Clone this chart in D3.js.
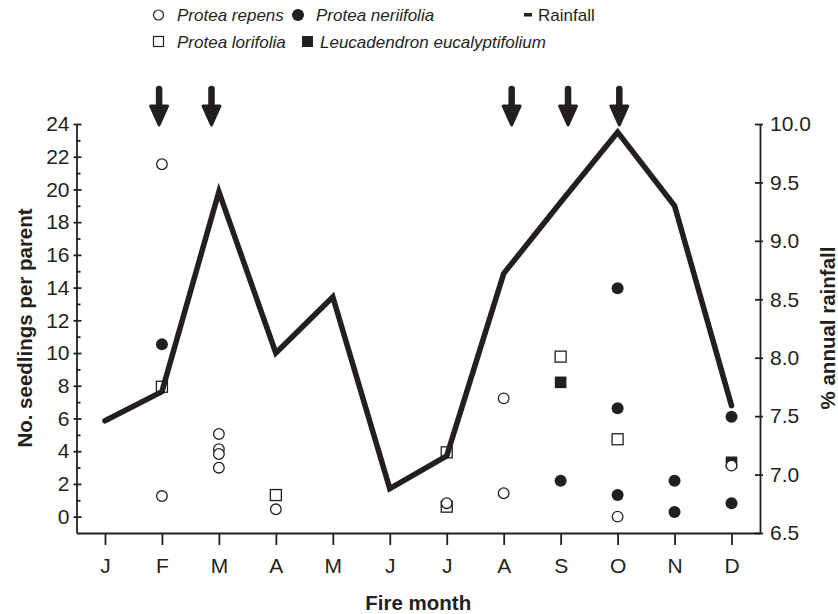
<!DOCTYPE html>
<html>
<head>
<meta charset="utf-8">
<script src="https://cdn.jsdelivr.net/npm/d3@7"></script>
<style>
body { margin: 0; background: #fff; }
svg { display: block; font-family: "Liberation Sans", Arial, sans-serif; }
</style>
</head>
<body>
<div id="canvas"></div>
<script>
var months = ["J", "F", "M", "A", "M", "J", "J", "A", "S", "O", "N", "D"]
var rainfall = [7.46, 7.71, 9.42, 8.04, 8.52, 6.88, 7.16, 8.72, 9.33, 9.93, 9.30, 7.59]

// seedlings per parent as [month, value]
var repens = [[2, 21.54], [2, 1.26], [3, 5.05], [3, 4.12], [3, 3.83], [3, 2.99], [4, 0.45], [7, 0.82], [8, 7.23], [8, 1.43], [10, 0.0], [12, 3.12]]
var neriifolia = [[2, 10.53], [9, 2.2], [10, 13.96], [10, 6.62], [10, 1.32], [11, 2.2], [11, 0.28], [12, 6.11], [12, 0.82]]
var lorifolia = [[2, 7.94], [4, 1.32], [7, 3.93], [7, 0.61], [9, 9.78], [10, 4.73]]
var leucadendron = [[9, 8.21], [12, 3.32]]

// fire months marked with arrows
var fireArrows = [1.95, 2.87, 8.14, 9.13, 10.03]

var leftTicks = d3.range(0, 25, 2)
var leftMinor = d3.range(1, 24, 2)
var rightTicks = [6.5, 7.0, 7.5, 8.0, 8.5, 9.0, 9.5, 10.0]

var width = 838
var height = 614
var ink = "#231f20"

var svg = d3.select("#canvas")
    .append("svg")
    .attr("width", width)
    .attr("height", height)

var xScale = d3.scaleLinear().domain([0.5, 12.5]).range([76.5, 760])
var yLeft = d3.scaleLinear().domain([-1, 24]).range([533, 124])
var yRight = d3.scaleLinear().domain([6.5, 10]).range([533, 124])

draw()

function styleAxis(g, size) {
    g.selectAll("path, line").attr("stroke", ink).attr("stroke-width", 1.8)
    g.selectAll("text").attr("fill", ink).style("font-size", size + "px")
}

function draw() {
    // x axis
    var xAxis = svg.append("g")
        .attr("transform", "translate(0,533)")
        .call(d3.axisBottom(xScale)
            .tickValues(d3.range(1, 13))
            .tickFormat(function (d) { return months[d - 1] })
            .tickSizeInner(12)
            .tickSizeOuter(0)
            .tickPadding(13))
    styleAxis(xAxis, 21)

    // left axis
    var leftAxis = svg.append("g")
        .attr("transform", "translate(76.5,0)")
        .call(d3.axisLeft(yLeft)
            .tickValues(leftTicks)
            .tickSizeInner(3)
            .tickSizeOuter(0)
            .tickPadding(4))
    styleAxis(leftAxis, 21)

    var leftInner = svg.append("g")
        .attr("transform", "translate(76.5,0)")
        .call(d3.axisLeft(yLeft).tickValues(leftTicks).tickSize(-5).tickFormat(""))
    leftInner.select(".domain").remove()
    styleAxis(leftInner, 21)

    var leftMinorAxis = svg.append("g")
        .attr("transform", "translate(76.5,0)")
        .call(d3.axisLeft(yLeft).tickValues(leftMinor).tickSize(-4).tickFormat(""))
    leftMinorAxis.select(".domain").remove()
    styleAxis(leftMinorAxis, 21)

    // right axis
    var rightAxis = svg.append("g")
        .attr("transform", "translate(760,0)")
        .call(d3.axisRight(yRight)
            .tickValues(rightTicks)
            .tickFormat(d3.format(".1f"))
            .tickSizeInner(3)
            .tickSizeOuter(0)
            .tickPadding(7))
    styleAxis(rightAxis, 21)

    var rightInner = svg.append("g")
        .attr("transform", "translate(760,0)")
        .call(d3.axisRight(yRight).tickValues(rightTicks).tickSize(-5).tickFormat(""))
    rightInner.select(".domain").remove()
    styleAxis(rightInner, 21)

    // axis titles
    svg.append("text")
        .attr("x", xScale(6.5))
        .attr("y", 610)
        .attr("text-anchor", "middle")
        .style("font-size", "20.5px")
        .style("font-weight", "bold")
        .attr("fill", ink)
        .text("Fire month")

    svg.append("text")
        .attr("transform", "translate(32,328) rotate(-90)")
        .attr("text-anchor", "middle")
        .style("font-size", "20.5px")
        .style("font-weight", "bold")
        .attr("fill", ink)
        .text("No. seedlings per parent")

    svg.append("text")
        .attr("transform", "translate(835,328) rotate(-90)")
        .attr("text-anchor", "middle")
        .style("font-size", "20.5px")
        .style("font-weight", "bold")
        .attr("fill", ink)
        .text("% annual rainfall")

    // squares first, line over them, circles on top
    svg.selectAll(".leuc")
        .data(leucadendron)
        .enter()
        .append("rect")
        .attr("class", "leuc")
        .attr("x", function (d) { return xScale(d[0]) - 5.8 })
        .attr("y", function (d) { return yLeft(d[1]) - 5.8 })
        .attr("width", 11.6)
        .attr("height", 11.6)
        .attr("fill", ink)

    svg.selectAll(".lori")
        .data(lorifolia)
        .enter()
        .append("rect")
        .attr("class", "lori")
        .attr("x", function (d) { return xScale(d[0]) - 5.5 })
        .attr("y", function (d) { return yLeft(d[1]) - 5.5 })
        .attr("width", 11)
        .attr("height", 11)
        .attr("fill", "#fff")
        .attr("stroke", ink)
        .attr("stroke-width", 1.3)

    var line = d3.line()
        .x(function (d, i) { return xScale(i + 1) })
        .y(function (d) { return yRight(d) })

    svg.append("path")
        .datum(rainfall)
        .attr("d", line)
        .attr("fill", "none")
        .attr("stroke", ink)
        .attr("stroke-width", 5.5)
        .attr("stroke-linejoin", "miter")
        .attr("stroke-miterlimit", 4)
        .attr("stroke-linecap", "round")

    svg.selectAll(".repens")
        .data(repens)
        .enter()
        .append("circle")
        .attr("class", "repens")
        .attr("cx", function (d) { return xScale(d[0]) })
        .attr("cy", function (d) { return yLeft(d[1]) })
        .attr("r", 5.3)
        .attr("fill", "#fff")
        .attr("stroke", ink)
        .attr("stroke-width", 1.3)

    svg.selectAll(".neri")
        .data(neriifolia)
        .enter()
        .append("circle")
        .attr("class", "neri")
        .attr("cx", function (d) { return xScale(d[0]) })
        .attr("cy", function (d) { return yLeft(d[1]) })
        .attr("r", 6)
        .attr("fill", ink)

    // fire arrows
    var arrows = svg.selectAll(".arrow")
        .data(fireArrows)
        .enter()
        .append("g")
        .attr("class", "arrow")
        .attr("transform", function (d) { return "translate(" + xScale(d) + ",0)" })
    arrows.append("line")
        .attr("x1", 0).attr("x2", 0)
        .attr("y1", 89).attr("y2", 108)
        .attr("stroke", ink)
        .attr("stroke-width", 6.5)
        .attr("stroke-linecap", "round")
    arrows.append("path")
        .attr("d", "M-8.5,106L8.5,106L0,125Z")
        .attr("fill", ink)
        .attr("stroke", ink)
        .attr("stroke-width", 3)
        .attr("stroke-linejoin", "round")

    createLegend()
}

function createLegend() {
    var legend = svg.append("g").attr("id", "legend").attr("fill", ink)

    legend.append("circle").attr("cx", 158.5).attr("cy", 15).attr("r", 5)
        .attr("fill", "#fff").attr("stroke", ink).attr("stroke-width", 1.2)
    legend.append("circle").attr("cx", 298).attr("cy", 15).attr("r", 6)
    legend.append("rect").attr("x", 524).attr("y", 13).attr("width", 8).attr("height", 3.5)

    legend.append("rect").attr("x", 153.5).attr("y", 36.5).attr("width", 10).attr("height", 10)
        .attr("fill", "#fff").attr("stroke", ink).attr("stroke-width", 1.2)
    legend.append("rect").attr("x", 302).attr("y", 36).attr("width", 11).attr("height", 11)

    var items = [
        { x: 177, y: 21, text: "Protea repens", italic: true },
        { x: 316, y: 21, text: "Protea neriifolia", italic: true },
        { x: 538, y: 21, text: "Rainfall", italic: false },
        { x: 177, y: 47.5, text: "Protea lorifolia", italic: true },
        { x: 320, y: 47.5, text: "Leucadendron eucalyptifolium", italic: true }
    ]

    legend.selectAll(".legend-label")
        .data(items)
        .enter()
        .append("text")
        .attr("class", "legend-label")
        .attr("x", function (d) { return d.x })
        .attr("y", function (d) { return d.y })
        .style("font-size", "17px")
        .style("font-style", function (d) { return d.italic ? "italic" : "normal" })
        .text(function (d) { return d.text })
}
</script>
</body>
</html>
